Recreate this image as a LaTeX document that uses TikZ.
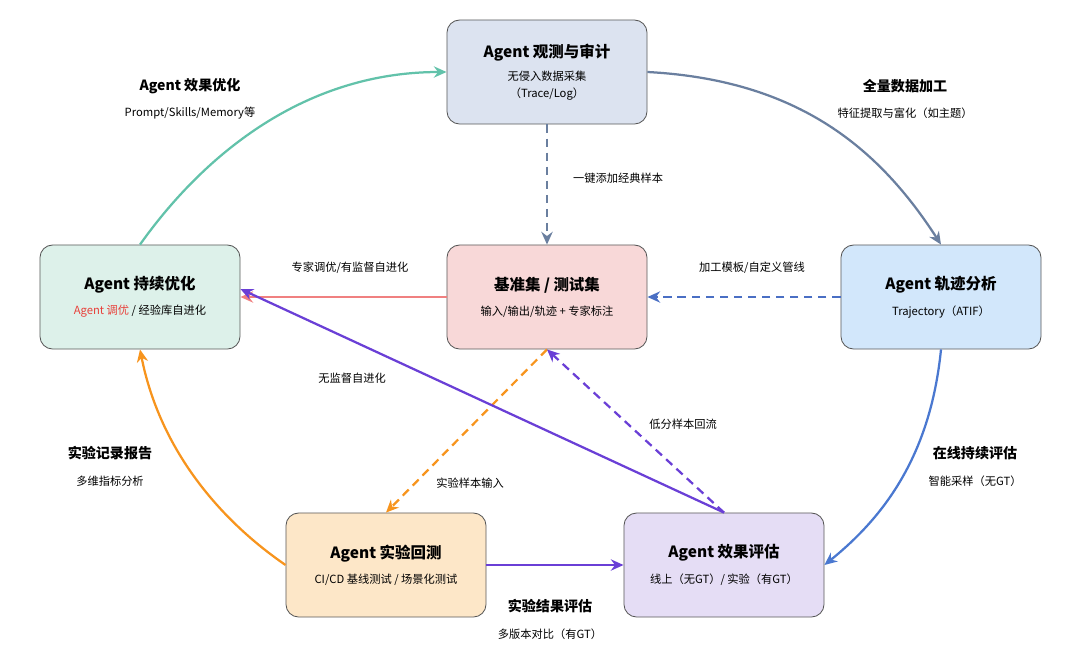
\documentclass[tikz,border=0pt]{standalone}
\usepackage{fontspec}
\setmainfont{Noto Sans CJK SC}
\usetikzlibrary{arrows.meta,positioning,calc}
\definecolor{obsfill}{HTML}{DCE3F0}
\definecolor{optfill}{HTML}{DDF1EA}
\definecolor{benchfill}{HTML}{F8D8D8}
\definecolor{trajfill}{HTML}{D2E7FB}
\definecolor{expfill}{HTML}{FDE7C8}
\definecolor{evalfill}{HTML}{E5DDF5}
\definecolor{teal}{HTML}{62C2AA}
\definecolor{slate}{HTML}{6A7F9F}
\definecolor{dashblue}{HTML}{4A6FC4}
\definecolor{salmon}{HTML}{F08080}
\definecolor{linkblue}{HTML}{4A78D0}
\definecolor{violet}{HTML}{6A3FD6}
\definecolor{orange}{HTML}{F7941D}
\definecolor{redtext}{HTML}{E8403A}
\begin{document}
\begin{tikzpicture}[x=0.025cm,y=-0.025cm,>={Stealth[length=9pt,width=8pt]}]
    \tikzstyle{box}=[draw=black!65,line width=0.6pt,rounded corners=9pt,minimum width=5cm,minimum height=2.6cm,align=center]
    \tikzstyle{title}=[font=\fontsize{11}{13}\selectfont\bfseries]
    \tikzstyle{sub}=[font=\fontsize{8}{15}\selectfont]
    \tikzstyle{lab}=[font=\fontsize{8}{15}\selectfont,align=center]
    \tikzstyle{blab}=[font=\fontsize{10}{12}\selectfont\bfseries]
    \tikzstyle{link}=[->,line width=1.6pt]
    \tikzstyle{dlink}=[->,line width=1.6pt,dash pattern=on 6pt off 4pt]
    \useasboundingbox (0,0) rectangle (1080,660);

    % Stages
    \node (obs)[box,fill=obsfill] at (547,72) {{\fontsize{11}{13}\selectfont\bfseries Agent 观测与审计}\\[4pt]{\fontsize{8}{15}\selectfont 无侵入数据采集}\\{\fontsize{8}{15}\selectfont （Trace/Log）}};
    \node (opt)[box,fill=optfill] at (140,297) {{\fontsize{11}{13}\selectfont\bfseries Agent 持续优化}\\[6pt]{\fontsize{8}{15}\selectfont \textcolor{redtext}{Agent 调优} / 经验库自进化}};
    \node (bench)[box,fill=benchfill] at (547,297) {{\fontsize{11}{13}\selectfont\bfseries 基准集 / 测试集}\\[6pt]{\fontsize{8}{15}\selectfont 输入/输出/轨迹 + 专家标注}};
    \node (traj)[box,fill=trajfill] at (941,297) {{\fontsize{11}{13}\selectfont\bfseries Agent 轨迹分析}\\[6pt]{\fontsize{8}{15}\selectfont Trajectory（ATIF）}};
    \node (exp)[box,fill=expfill] at (386,565) {{\fontsize{11}{13}\selectfont\bfseries Agent 实验回测}\\[6pt]{\fontsize{8}{15}\selectfont CI/CD 基线测试 / 场景化测试}};
    \node (eval)[box,fill=evalfill] at (724,565) {{\fontsize{11}{13}\selectfont\bfseries Agent 效果评估}\\[6pt]{\fontsize{8}{15}\selectfont 线上（无GT）/ 实验（有GT）}};

    % Outer loop
    \draw[link,teal] (opt.north) .. controls (200,160) and (300,72) .. (obs.west);
    \draw[link,slate] (obs.east) .. controls (800,80) and (880,150) .. (traj.north);
    \draw[link,linkblue] (traj.south) .. controls (930,460) and (880,520) .. (eval.east);
    \draw[link,violet] (exp.east) -- (eval.west);
    \draw[link,orange] (exp.west) .. controls (220,520) and (160,450) .. (opt.south);

    % Inner links
    \draw[dlink,slate] (obs.south) -- (bench.north);
    \draw[dlink,dashblue] (traj.west) -- (bench.east);
    \draw[link,salmon] (bench.west) -- (opt.east);
    \draw[dlink,orange] (bench.south) -- (exp.north);
    \draw[dlink,violet] (eval.north) -- (bench.south);
    \draw[link,violet] (eval.north) -- ($(opt.east)+(0,-8)$);

    % Labels
    \node[blab] at (190,86) {Agent 效果优化};
    \node[lab] at (190,113) {Prompt/Skills/Memory等};
    \node[blab] at (905,86) {全量数据加工};
    \node[lab] at (905,113) {特征提取与富化（如主题）};
    \node[lab] at (618,178) {一键添加经典样本};
    \node[lab] at (350,268) {专家调优/有监督自进化};
    \node[lab] at (752,268) {加工模板/自定义管线};
    \node[lab] at (352,378) {无监督自进化};
    \node[lab] at (683,424) {低分样本回流};
    \node[lab] at (470,483) {实验样本输入};
    \node[blab] at (110,453) {实验记录报告};
    \node[lab] at (110,481) {多维指标分析};
    \node[blab] at (975,453) {在线持续评估};
    \node[lab] at (975,481) {智能采样（无GT）};
    \node[blab] at (550,606) {实验结果评估};
    \node[lab] at (550,634) {多版本对比（有GT）};
\end{tikzpicture}
\end{document}
